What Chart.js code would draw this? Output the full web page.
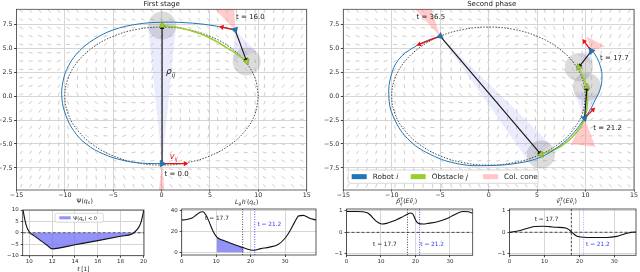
<!DOCTYPE html>
<html>
<head>
<meta charset="utf-8">
<title>Collision avoidance stages</title>
<script src="https://cdn.jsdelivr.net/npm/chart.js@4.4.1/dist/chart.umd.min.js"></script>
<style>
  html, body { margin: 0; padding: 0; background: #fff; }
  #fig { position: relative; width: 640px; height: 272px; overflow: hidden; }
  .cell { position: absolute; }
</style>
</head>
<body>
<div id="fig">
  <div class="cell" style="left:0;top:0;width:320px;height:200px"><canvas id="stage1"></canvas></div>
  <div class="cell" style="left:320px;top:0;width:320px;height:200px"><canvas id="stage2"></canvas></div>
  <div class="cell" style="left:0;top:196px;width:160px;height:76px"><canvas id="psi"></canvas></div>
  <div class="cell" style="left:160px;top:196px;width:160px;height:76px"><canvas id="lgh"></canvas></div>
  <div class="cell" style="left:320px;top:196px;width:160px;height:76px"><canvas id="proj"></canvas></div>
  <div class="cell" style="left:480px;top:196px;width:160px;height:76px"><canvas id="vel"></canvas></div>
</div>
<script>
"use strict";

const FONT = '"DejaVu Sans", sans-serif';
const BLUE = '#1f77b4', GREEN = '#9acd32', RED = '#ee1111';
const FILL = 'rgba(110,110,245,0.75)', TBLUE = '#3b3bf5';

// ---------- top panels: plane (x, y) ----------
const planeTicksX = [-15, -10, -5, 0, 5, 10, 15];
const planeTicksY = [-7.5, -5, -2.5, 0, 2.5, 5, 7.5];

// desired path (dashed ellipse)
const pathX = [10, 9.66, 8.66, 7.07, 5, 2.59, 0, -2.59, -5, -7.07, -8.66, -9.66, -10, -9.66, -8.66, -7.07, -5, -2.59, 0, 2.59, 5, 7.07, 8.66, 9.66, 10];
const pathY = [0, 1.86, 3.6, 5.09, 6.24, 6.95, 7.2, 6.95, 6.24, 5.09, 3.6, 1.86, 0, -1.86, -3.6, -5.09, -6.24, -6.95, -7.2, -6.95, -6.24, -5.09, -3.6, -1.86, 0];

// first stage (t = 0 .. 16)
const robot1X = [0.05, -2, -4, -6, -7.8, -9.1, -9.9, -10.3, -10.2, -9.6, -8.5, -7, -5, -2.5, 0, 2.5, 5, 7.6];
const robot1Y = [-7.05, -7.0, -6.7, -6.05, -5.0, -3.6, -2.0, -0.3, 1.5, 3.2, 4.7, 5.9, 6.9, 7.5, 7.7, 7.65, 7.4, 6.9];
const obst1X = [0.05, 2.0, 4.0, 5.5, 6.8, 7.9, 8.8];
const obst1Y = [7.35, 7.1, 6.5, 5.8, 5.0, 4.3, 3.6];
const snap1Robot = [[0.05, -7.05], [7.6, 6.9]];
const snap1Obst = [[0.05, 7.35], [8.8, 3.6]];
const snap1Vel = [[2.7, -7.05], [6.0, 7.25]];
const snap1Cones = [[[7.6, 6.9], [5.0, 9.6], [7.5, 9.6]], [[0.05, -7.05], [-0.3, -10], [0.3, -10]]];

// second phase (t = 17.7 .. 36.5)
const robot2X = [10.4, 11.0, 11.5, 11.7, 11.5, 11.0, 10.5, 9.9, 8.8, 7.3, 5.3, 3, 0, -3, -6, -8.4, -9.9, -10.3, -10.1, -9.3, -7.7, -6.3, -5.0];
const robot2Y = [5.1, 4.3, 3.2, 2.0, 0.7, -0.4, -1.4, -2.3, -3.8, -5.2, -6.4, -7.0, -7.25, -7.1, -6.1, -4.4, -2.0, 0, 2, 3.8, 5.1, 5.8, 6.25];
const obst2X = [9.25, 9.7, 10.1, 10.2, 10.0, 9.5, 8.5, 7.2, 5.5];
const obst2Y = [3.05, 2.1, 1.0, -0.5, -2.0, -3.2, -4.4, -5.4, -6.05];
const snap2Robot = [[10.6, 4.7], [9.9, -2.3], [-5.0, 6.25]];
const snap2Obst = [[9.3, 3.0], [10.15, 0.95], [5.4, -6.1]];
const snap2Vel = [[9.7, 5.9], [10.95, -1.25], [-7.4, 5.3]];
const snap2Cones = [[[10.6, 4.7], [10.1, 6.2], [12.0, 5.2]], [[9.9, -2.3], [8.5, -5.0], [11.0, -5.3]], [[-5.0, 6.25], [-8.1, 9.6], [-6.1, 9.6]]];
const OBST_R = 1.45;

// ---------- bottom panels ----------
const psiT = [9.45, 9.55, 9.65, 9.8, 9.95, 10.1, 10.4, 11.0, 11.5, 12.0, 14, 16, 18, 19.0, 19.3, 19.6, 19.8, 19.95, 20.05];
const psiV = [10, 7.2, 4.8, 2.3, 0.8, -0.2, -1.2, -3.4, -5.2, -7.0, -5.2, -3.4, -1.5, -0.5, 0.7, 2.5, 4.8, 8, 10.5];

const lghT = [0, 1.5, 3, 4.5, 5.5, 6.2, 7.0, 8.0, 9.0, 10.2, 12, 14, 16, 18, 19.7, 21, 23, 25.5, 28, 30, 31.5, 32.8, 34, 35.3, 37, 39];
const lghV = [31, 31.5, 33, 36.5, 38.8, 39, 36, 29, 21, 14.5, 11.5, 9, 6.5, 4.3, 2.5, 2.0, 3.5, 5, 7.5, 13.5, 21, 29, 35, 35.5, 33, 31];

const projT = [0, 3, 4.8, 6.0, 6.8, 7.8, 8.7, 9.5, 10.2, 11.6, 13, 14.5, 16, 17.6, 18.5, 19.2, 19.8, 20.3, 20.8, 22.2, 24, 26.1, 29, 31, 32.5, 33.9, 35.3, 36.6];
const projV = [0.97, 0.97, 0.96, 0.91, 0.82, 0.65, 0.51, 0.43, 0.39, 0.42, 0.5, 0.59, 0.7, 0.85, 0.9, 0.86, 0.66, 0.5, 0.43, 0.39, 0.43, 0.48, 0.63, 0.8, 0.92, 0.97, 0.96, 0.89];

const velT = [0, 2, 3.8, 5.5, 7.2, 9.6, 11.5, 13.4, 16.1, 17.0, 17.7, 18.5, 19.2, 20, 21.1, 24, 27.8, 30.7, 32.2, 33.6, 35, 36.2];
const velV = [0, 0.05, 0.12, 0.2, 0.27, 0.28, 0.26, 0.23, 0.2, 0.12, 0.02, -0.09, -0.17, -0.21, -0.23, -0.24, -0.24, -0.19, -0.12, -0.05, 0, 0.01];

const T_ENTER = 17.7, T_LEAVE = 21.2;

// ---------- helpers ----------
const pts = (xs, ys) => xs.map((x, i) => ({ x, y: ys[i] }));
const P = p => ({ x: p[0], y: p[1] });
const minus = s => String(s).replace('-', '\u2212');
const heading = (a, b) => Math.atan2(b[0] - a[0], b[1] - a[1]) * 180 / Math.PI;

function drawRuns(ctx, runs, x, y, size, color, align) {
  const font = (it, s) => (it ? 'italic ' : '') + s.toFixed(2) + 'px ' + FONT;
  const small = size * 0.7;
  const parts = runs.map(r => {
    if (typeof r === 'string') r = { t: r };
    if (r.t !== undefined) { ctx.font = font(r.it, size); return { r, w: ctx.measureText(r.t).width }; }
    ctx.font = font(r.it, small);
    const w = Math.max(r.sub ? ctx.measureText(r.sub).width : 0, r.sup ? ctx.measureText(r.sup).width : 0);
    return { r, w: w + size * 0.06 };
  });
  const total = parts.reduce((s, p) => s + p.w, 0);
  let cx = align === 'center' ? x - total / 2 : align === 'right' ? x - total : x;
  const base = y + size * 0.36;
  ctx.save();
  ctx.fillStyle = color; ctx.textBaseline = 'alphabetic'; ctx.textAlign = 'left';
  parts.forEach(p => {
    const r = p.r;
    if (r.t !== undefined) { ctx.font = font(r.it, size); ctx.fillText(r.t, cx, base); }
    else {
      ctx.font = font(r.it, small);
      if (r.sub) ctx.fillText(r.sub, cx, base + size * 0.24);
      if (r.sup) ctx.fillText(r.sup, cx, base - size * 0.45);
    }
    cx += p.w;
  });
  ctx.restore();
}

function drawBox(ctx, b) {
  ctx.save();
  ctx.fillStyle = 'rgba(255,255,255,0.85)'; ctx.strokeStyle = '#cfcfcf'; ctx.lineWidth = 0.8;
  ctx.beginPath();
  if (ctx.roundRect) ctx.roundRect(b.x, b.y, b.w, b.h, 1.5); else ctx.rect(b.x, b.y, b.w, b.h);
  ctx.fill(); ctx.stroke();
  b.items.forEach(it => {
    ctx.fillStyle = it.color;
    ctx.fillRect(it.x, b.y + (b.h - b.ph) / 2, b.pw, b.ph);
    drawRuns(ctx, it.runs, it.x + b.pw + b.gap, b.y + b.h / 2, b.size, '#222', 'left');
  });
  ctx.restore();
}

// annotations kept per canvas id
const NOTES = {};
const annotPlugin = {
  id: 'annot',
  afterDraw(chart) {
    const n = NOTES[chart.canvas.id];
    if (!n) return;
    const ctx = chart.ctx, a = chart.chartArea;
    ctx.save();
    ctx.strokeStyle = n.frame || '#444'; ctx.lineWidth = 0.8;
    ctx.strokeRect(a.left, a.top, a.right - a.left, a.bottom - a.top);
    ctx.restore();
    (n.items || []).forEach(it => {
      const x = it.at ? chart.scales.x.getPixelForValue(it.at[0]) : it.px[0];
      const y = it.at ? chart.scales.y.getPixelForValue(it.at[1]) : it.px[1];
      drawRuns(ctx, it.runs, x, y, it.size, it.color || '#1a1a1a', it.align || 'left');
    });
    (n.boxes || []).forEach(b => drawBox(ctx, b));
  }
};

function axis(min, max, ticks, size, fit, horizontal, fmt, tl, pad) {
  return {
    type: 'linear', min, max,
    afterBuildTicks: s => { s.ticks = ticks.map(v => ({ value: v })); },
    afterFit: s => { if (horizontal) s.height = fit; else s.width = fit; },
    grid: { color: '#d6d6d6', lineWidth: 1, drawTicks: true, tickLength: tl, tickColor: '#444' },
    border: { display: false },
    ticks: { font: { family: FONT, size }, color: '#2a2a2a', padding: pad, maxRotation: 0, autoSkip: false, callback: fmt }
  };
}

// ---------- guide field drawn in the background ----------
const EA = 10, EB = 7.2, GAIN = 2;
const fieldPts = [], fieldRot = [];
for (let i = 0; i < 31; i++) {
  for (let j = 0; j < 22; j++) {
    const x = -14.5 + i * 29 / 30, y = -9.35 + j * 18.2 / 21;
    const gx = 2 * x / (EA * EA), gy = 2 * y / (EB * EB);
    const e = x * x / (EA * EA) + y * y / (EB * EB) - 1;
    const vx = gy - GAIN * e * gx, vy = -gx - GAIN * e * gy;
    fieldPts.push({ x, y });
    fieldRot.push(Math.atan2(-vy, vx) * 180 / Math.PI);
  }
}

function arrowDs(p0, p1, color, width, head, order) {
  const dx = p1[0] - p0[0], dy = p1[1] - p0[1], d = Math.hypot(dx, dy);
  const back = head * 0.8 / 9.65;
  const c = [p1[0] - dx / d * back, p1[1] - dy / d * back];
  return {
    data: [P(p0), P(c)], showLine: true, borderColor: color, borderWidth: width,
    pointRadius: [0, head], pointStyle: 'triangle', pointRotation: heading(p0, p1),
    pointBackgroundColor: color, pointBorderWidth: 0, order
  };
}

function conePoly(p, c, R) {
  const dx = c[0] - p[0], dy = c[1] - p[1], d = Math.hypot(dx, dy);
  const a = Math.asin(Math.min(R / d, 0.98)), L = Math.sqrt(Math.max(d * d - R * R, 0.01));
  const b = Math.atan2(dy, dx);
  return [P(p), { x: p[0] + L * Math.cos(b + a), y: p[1] + L * Math.sin(b + a) }, { x: p[0] + L * Math.cos(b - a), y: p[1] + L * Math.sin(b - a) }, P(p)];
}

function stageChart(id, s) {
  const ds = [];
  s.robot.forEach((p, i) => {
    ds.push({ data: [P(s.obst[i])], pointStyle: 'triangle', pointRadius: 3.8, pointRotation: heading(p, s.obst[i]), pointBackgroundColor: GREEN, pointBorderColor: '#5d7d1c', pointBorderWidth: 0.4, order: 0 });
    ds.push({ data: [P(p)], pointStyle: 'triangle', pointRadius: 3.8, pointRotation: heading(p, s.vel[i]), pointBackgroundColor: BLUE, pointBorderColor: '#0e4a78', pointBorderWidth: 0.4, order: 0 });
    ds.push(arrowDs(p, s.obst[i], '#111', 1.1, 2.6, 1));
    ds.push(arrowDs(p, s.vel[i], RED, 1.3, 3, 1));
    ds.push({ data: conePoly(p, s.obst[i], OBST_R), showLine: true, fill: 'shape', backgroundColor: 'rgba(175,175,250,0.25)', borderColor: 'transparent', pointRadius: 0, order: 6 });
  });
  s.cones.forEach(c => ds.push({ data: c.concat([c[0]]).map(P), showLine: true, fill: 'shape', backgroundColor: 'rgba(255,130,130,0.42)', borderColor: 'transparent', pointRadius: 0, order: 5 }));
  ds.push({ data: s.obst.map(P), pointStyle: 'circle', backgroundColor: 'rgba(140,140,140,0.3)', pointBorderWidth: 0, order: 4,
    pointRadius: ctx => { const sc = ctx.chart.scales.x; return sc ? Math.abs(sc.getPixelForValue(OBST_R) - sc.getPixelForValue(0)) : 14; } });
  ds.push({ data: pts(s.rx, s.ry), showLine: true, borderColor: BLUE, borderWidth: 1, tension: 0.4, pointRadius: 0, order: 2 });
  ds.push({ data: pts(s.ox, s.oy), showLine: true, borderColor: GREEN, borderWidth: 1.6, tension: 0.4, pointRadius: 0, order: 2 });
  ds.push({ data: pts(pathX, pathY), showLine: true, borderColor: '#222', borderWidth: 0.8, borderDash: [1.5, 1.5], tension: 0.4, pointRadius: 0, order: 3 });
  ds.push({ data: fieldPts, pointStyle: 'line', pointRadius: 2, pointRotation: fieldRot, pointBorderColor: '#c6c6c6', pointBorderWidth: 0.9, order: 9 });

  NOTES[id] = { frame: '#444', items: s.notes, boxes: s.boxes || [] };
  return new Chart(document.getElementById(id), {
    type: 'scatter',
    data: { datasets: ds },
    options: {
      animation: false, responsive: true, maintainAspectRatio: false, events: [],
      layout: { padding: s.pad },
      plugins: { legend: { display: false }, tooltip: { enabled: false } },
      scales: {
        x: axis(-15, 15, planeTicksX, 6.3, 10, true, v => minus(v), 1.5, 0.5),
        y: axis(-9.8, 9.05, planeTicksY, 6.3, s.yW, false, v => minus(v.toFixed(1)), 2.5, 1.5)
      }
    },
    plugins: [annotPlugin]
  });
}

const tLabel = v => ['t = ' + v];

stageChart('stage1', {
  robot: snap1Robot, obst: snap1Obst, vel: snap1Vel, cones: snap1Cones,
  rx: robot1X, ry: robot1Y, ox: obst1X, oy: obst1Y,
  pad: { left: 0, right: 13.3, top: 9.3, bottom: 0 }, yW: 16.5,
  notes: [
    { px: [161.6, 3.6], runs: ['First stage'], size: 7, align: 'center', color: '#222' },
    { at: [7.7, 8.25], runs: tLabel('16.0'), size: 7 },
    { at: [0.3, -8.05], runs: tLabel('0.0'), size: 7 },
    { at: [0.45, 2.6], runs: [{ t: '\u03c1', it: true }, { sub: 'ij', it: true }], size: 9 },
    { at: [0.85, -6.25], runs: [{ t: 'v', it: true }, { sub: 'ij', it: true }], size: 8, color: RED }
  ]
});

stageChart('stage2', {
  robot: snap2Robot, obst: snap2Obst, vel: snap2Vel, cones: snap2Cones,
  rx: robot2X, ry: robot2Y, ox: obst2X, oy: obst2Y,
  pad: { left: 0, right: 6, top: 9.3, bottom: 0 }, yW: 23.3,
  notes: [
    { px: [171.7, 3.6], runs: ['Second phase'], size: 7, align: 'center', color: '#222' },
    { at: [-7.45, 8.3], runs: tLabel('36.5'), size: 7 },
    { at: [11.5, 4.0], runs: tLabel('17.7'), size: 7 },
    { at: [10.8, -3.3], runs: tLabel('21.2'), size: 7 }
  ],
  boxes: [{
    x: 28.3, y: 170, w: 190, h: 13.3, pw: 15, ph: 5, gap: 6, size: 7.3,
    items: [
      { x: 31.7, color: BLUE, runs: ['Robot ', { t: 'i', it: true }] },
      { x: 90.7, color: GREEN, runs: ['Obstacle ', { t: 'j', it: true }] },
      { x: 163, color: 'rgba(255,130,130,0.45)', runs: ['Col. cone'] }
    ]
  }]
});

// ---------- bottom panels ----------
function curveDs(t, v, extra) {
  return Object.assign({ data: pts(t, v), showLine: true, borderColor: '#111', borderWidth: 1.1, cubicInterpolationMode: 'monotone', pointRadius: 0, order: 1 }, extra || {});
}
function hLine(x0, x1, y) {
  return { data: [{ x: x0, y }, { x: x1, y }], showLine: true, borderColor: '#222', borderWidth: 0.8, borderDash: [3, 2], pointRadius: 0, order: 2 };
}
function vLine(x, y0, y1, color, dash) {
  return { data: [{ x, y: y0 }, { x, y: y1 }], showLine: true, borderColor: color, borderWidth: 0.9, borderDash: dash, pointRadius: 0, order: 2 };
}

function smallChart(id, o) {
  NOTES[id] = { frame: '#333', items: o.notes, boxes: o.boxes || [] };
  return new Chart(document.getElementById(id), {
    type: 'scatter',
    data: { datasets: o.datasets },
    options: {
      animation: false, responsive: true, maintainAspectRatio: false, events: [],
      layout: { padding: o.pad },
      plugins: { legend: { display: false }, tooltip: { enabled: false } },
      scales: {
        x: axis(o.x[0], o.x[1], o.xTicks, 5.5, o.xH, true, v => minus(v), 2, 1),
        y: axis(o.y[0], o.y[1], o.yTicks, 5.5, o.yW, false, v => minus(v), 2, 2)
      }
    },
    plugins: [annotPlugin]
  });
}

smallChart('psi', {
  x: [9.42, 20.05], xTicks: [10, 12, 14, 16, 18, 20], y: [-10, 10], yTicks: [-10, -5, 0, 5, 10],
  pad: { left: 0, right: 16, top: 14, bottom: 0 }, yW: 22.7, xH: 16.3,
  datasets: [
    curveDs(psiT, psiV, { fill: { target: { value: 0 }, above: 'rgba(0,0,0,0)', below: FILL } }),
    hLine(9.42, 20.05, 0)
  ],
  notes: [
    { px: [84.7, 4.6], runs: ['\u03a8(', { t: 'q', it: true }, { sub: 's', it: true }, ')'], size: 6.2, align: 'center' },
    { px: [83.3, 73], runs: [{ t: 't', it: true }, ' [1]'], size: 5.8, align: 'center' }
  ],
  boxes: [{
    x: 55, y: 17.3, w: 48.3, h: 9, pw: 11.4, ph: 3, gap: 2.6, size: 5,
    items: [{ x: 59.3, color: FILL, runs: ['\u03a8(', { t: 'q', it: true }, { sub: 's', it: true }, ') < 0'] }]
  }]
});

const fillFrom = 10.2, fillTo = 18.2;
const lghFillT = lghT.filter(t => t >= fillFrom && t <= fillTo);
const lghFillV = lghV.filter((v, i) => lghT[i] >= fillFrom && lghT[i] <= fillTo);

smallChart('lgh', {
  x: [0, 39], xTicks: [0, 10, 20, 30], y: [-2.6, 41.6], yTicks: [0, 20, 40],
  pad: { left: 0, right: 4, top: 13, bottom: 0 }, yW: 21.7, xH: 17,
  datasets: [
    curveDs(lghT, lghV),
    curveDs(lghFillT, lghFillV, { borderColor: 'rgba(0,0,0,0)', borderWidth: 0, fill: 'origin', backgroundColor: FILL, order: 3 }),
    vLine(T_ENTER, -2.6, 41.6, '#333', [1, 1.5]),
    vLine(T_LEAVE, -2.6, 41.6, TBLUE, [1, 1.5])
  ],
  notes: [
    { px: [86.7, 5.6], runs: [{ t: 'L', it: true }, { sub: 'g', it: true }, { t: 'h', it: true }, '\u2032(', { t: 'q', it: true }, { sub: 's', it: true }, ')'], size: 6.2, align: 'center' },
    { at: [6.8, 33], runs: tLabel('17.7'), size: 5.8 },
    { at: [22, 27], runs: tLabel('21.2'), size: 5.8, color: TBLUE }
  ]
});

smallChart('proj', {
  x: [0, 36.6], xTicks: [0, 10, 20, 30], y: [-1.07, 1.09], yTicks: [-1, 0, 1],
  pad: { left: 0, right: 7.3, top: 13, bottom: 0 }, yW: 26.5, xH: 16.7,
  datasets: [
    curveDs(projT, projV),
    hLine(0, 36.6, 0),
    vLine(T_ENTER, -1.07, 1.09, '#333', [1, 1.5]),
    vLine(T_LEAVE, -1.07, 1.09, TBLUE, [1, 1.5])
  ],
  notes: [
    { px: [86.7, 5.2], runs: [{ t: 'p\u0302', it: true }, { sub: 'ij', sup: 'T', it: true }, '(', { t: 'E', it: true }, { t: 'v\u0302', it: true }, { sub: 'i', it: true }, ')'], size: 6.2, align: 'center' },
    { at: [7.7, -0.53], runs: tLabel('17.7'), size: 5.8 },
    { at: [21.4, -0.53], runs: tLabel('21.2'), size: 5.8, color: TBLUE }
  ]
});

smallChart('vel', {
  x: [0, 36.2], xTicks: [0, 10, 20, 30], y: [-1.07, 1.08], yTicks: [-1, 0, 1],
  pad: { left: 0, right: 4, top: 13, bottom: 0 }, yW: 29.5, xH: 16.7,
  datasets: [
    curveDs(velT, velV),
    hLine(0, 36.2, 0),
    vLine(T_ENTER, -1.07, 1.08, '#333', [2.5, 1.5]),
    vLine(T_LEAVE, -1.07, 1.08, 'rgba(59,59,245,0.5)', [1, 1.5])
  ],
  notes: [
    { px: [86.7, 5.2], runs: [{ t: 'v\u0302', it: true }, { sub: 'j', sup: 'T', it: true }, '(', { t: 'E', it: true }, { t: 'v\u0302', it: true }, { sub: 'i', it: true }, ')'], size: 6.2, align: 'center' },
    { at: [7.2, 0.63], runs: tLabel('17.7'), size: 5.8 },
    { at: [21.9, -0.53], runs: tLabel('21.2'), size: 5.8, color: TBLUE }
  ]
});
</script>
</body>
</html>
